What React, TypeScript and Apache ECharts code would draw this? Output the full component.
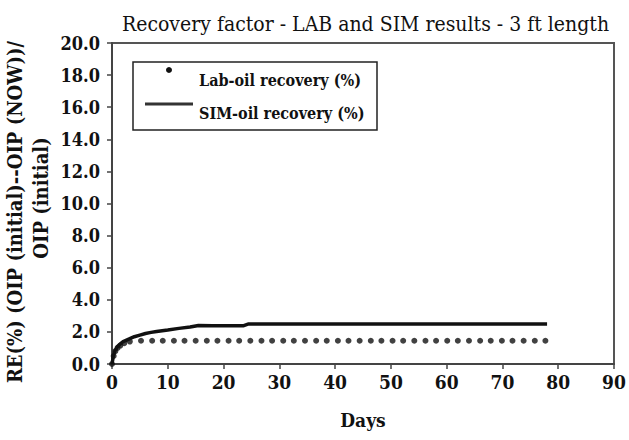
import React, { useEffect, useRef } from "react";
import * as echarts from "echarts";

const titleText = "Recovery factor - LAB and SIM results - 3 ft length";
const xTicks = [0, 10, 20, 30, 40, 50, 60, 70, 80, 90];
const yTicks = [0, 2, 4, 6, 8, 10, 12, 14, 16, 18, 20];

const simDays = [0, 0.25, 0.5, 1, 1.5, 2, 3, 4, 5, 6, 7, 8, 10, 12, 14, 15.5, 18, 23.5, 24.5, 30, 40, 50, 60, 70, 78];
const simValues = [0, 0.5, 0.8, 1.1, 1.25, 1.4, 1.55, 1.7, 1.8, 1.9, 1.97, 2.03, 2.12, 2.22, 2.3, 2.4, 2.38, 2.38, 2.5, 2.5, 2.5, 2.5, 2.5, 2.5, 2.5];

const labDays = [0, 0.3, 0.6, 1, 1.5, 2.2, 3.2, 5.2, 7.2, 9.1, 11.1, 13.0, 15.0, 17.0, 18.9, 20.9, 22.8, 24.8, 26.8, 28.7, 30.7, 32.6, 34.6, 36.6, 38.5, 40.5, 42.4, 44.4, 46.4, 48.3, 50.3, 52.2, 54.2, 56.2, 58.1, 60.1, 62.0, 64.0, 66.0, 67.9, 69.9, 71.8, 73.8, 75.8, 77.7];
const labValues = [0, 0.5, 0.8, 1.0, 1.15, 1.3, 1.4, 1.45, 1.45, 1.45, 1.45, 1.45, 1.45, 1.45, 1.45, 1.45, 1.45, 1.45, 1.45, 1.45, 1.45, 1.45, 1.45, 1.45, 1.45, 1.45, 1.45, 1.45, 1.45, 1.45, 1.45, 1.45, 1.45, 1.45, 1.45, 1.45, 1.45, 1.45, 1.45, 1.45, 1.45, 1.45, 1.45, 1.45, 1.45];

const labName = "Lab-oil recovery (%)";
const simName = "SIM-oil recovery (%)";
const yNameLine1 = "RE(%) (OIP (initial)--OIP (NOW))/";
const yNameLine2 = "OIP (initial)";
const xName = "Days";

const SERIF = "DejaVu Serif Condensed, DejaVu Serif";

export default function App() {
  const ref = useRef<HTMLDivElement>(null);
  useEffect(() => {
    if (!ref.current) return;
    const chart = echarts.init(ref.current, undefined, { renderer: "svg" });
    const axisColor = "#444";
    chart.setOption({
      animation: false,
      backgroundColor: "#fff",
      textStyle: { fontFamily: SERIF },
      title: {
        text: titleText,
        left: 117,
        top: 8,
        textStyle: { fontFamily: SERIF, fontSize: 21, fontWeight: "normal", color: "#111" },
      },
      grid: {
        left: 112,
        right: 15,
        top: 43,
        bottom: 76,
        show: true,
        borderColor: "#555",
        borderWidth: 2,
      },
      xAxis: {
        type: "value",
        min: 0,
        max: 90,
        interval: 10,
        name: xName,
        nameLocation: "middle",
        nameGap: 46,
        nameTextStyle: { fontFamily: SERIF, fontSize: 19, fontWeight: "bold", color: "#111" },
        axisLine: { show: true, lineStyle: { color: axisColor, width: 2 } },
        axisTick: { show: true, inside: false, length: 5, lineStyle: { color: axisColor, width: 1.5 } },
        axisLabel: {
          margin: 8,
          fontFamily: SERIF,
          fontSize: 19,
          fontWeight: "bold",
          color: "#111",
          formatter: (v: number) => (xTicks.includes(v) ? String(v) : ""),
        },
        splitLine: { show: false },
      },
      yAxis: {
        type: "value",
        min: 0,
        max: 20,
        interval: 2,
        axisLine: { show: true, lineStyle: { color: axisColor, width: 2 } },
        axisTick: { show: true, inside: false, length: 5, lineStyle: { color: axisColor, width: 1.5 } },
        axisLabel: {
          margin: 12,
          fontFamily: SERIF,
          fontSize: 18,
          fontWeight: "bold",
          color: "#111",
          formatter: (v: number) => (yTicks.includes(v) ? v.toFixed(1) : ""),
        },
        splitLine: { show: false },
      },
      series: [
        {
          name: labName,
          type: "scatter",
          data: labDays.map((d, i) => [d, labValues[i]]),
          symbol: "circle",
          symbolSize: 6,
          itemStyle: { color: "#111" },
          z: 3,
        },
        {
          name: simName,
          type: "line",
          data: simDays.map((d, i) => [d, simValues[i]]),
          showSymbol: false,
          symbol: "none",
          lineStyle: { color: "#111", width: 3.5 },
          z: 2,
        },
      ],
      graphic: [
        {
          type: "text",
          x: 15,
          y: 212,
          rotation: Math.PI / 2,
          style: {
            text: yNameLine1,
            fontFamily: SERIF,
            fontSize: 20,
            fontWeight: "bold",
            fill: "#111",
            align: "center",
            verticalAlign: "middle",
          },
        },
        {
          type: "text",
          x: 41,
          y: 198,
          rotation: Math.PI / 2,
          style: {
            text: yNameLine2,
            fontFamily: SERIF,
            fontSize: 20,
            fontWeight: "bold",
            fill: "#111",
            align: "center",
            verticalAlign: "middle",
          },
        },
        {
          type: "rect",
          shape: { x: 133, y: 62, width: 244, height: 68 },
          style: { fill: "#fff", stroke: "#222", lineWidth: 1.5 },
          z: 10,
        },
        {
          type: "circle",
          shape: { cx: 169, cy: 70, r: 3 },
          style: { fill: "#111" },
          z: 11,
        },
        {
          type: "line",
          shape: { x1: 145, y1: 104, x2: 193, y2: 104 },
          style: { stroke: "#333", lineWidth: 3 },
          z: 11,
        },
        {
          type: "text",
          x: 199,
          y: 80,
          style: {
            text: labName,
            fontFamily: SERIF,
            fontSize: 16,
            fontWeight: "bold",
            fill: "#111",
            align: "left",
            verticalAlign: "middle",
          },
          z: 11,
        },
        {
          type: "text",
          x: 199,
          y: 113,
          style: {
            text: simName,
            fontFamily: SERIF,
            fontSize: 16,
            fontWeight: "bold",
            fill: "#111",
            align: "left",
            verticalAlign: "middle",
          },
          z: 11,
        },
      ],
    });
    return () => chart.dispose();
  }, []);
  return <div ref={ref} style={{ width: 629, height: 440, position: "absolute", left: 0, top: 0 }} />;
}
